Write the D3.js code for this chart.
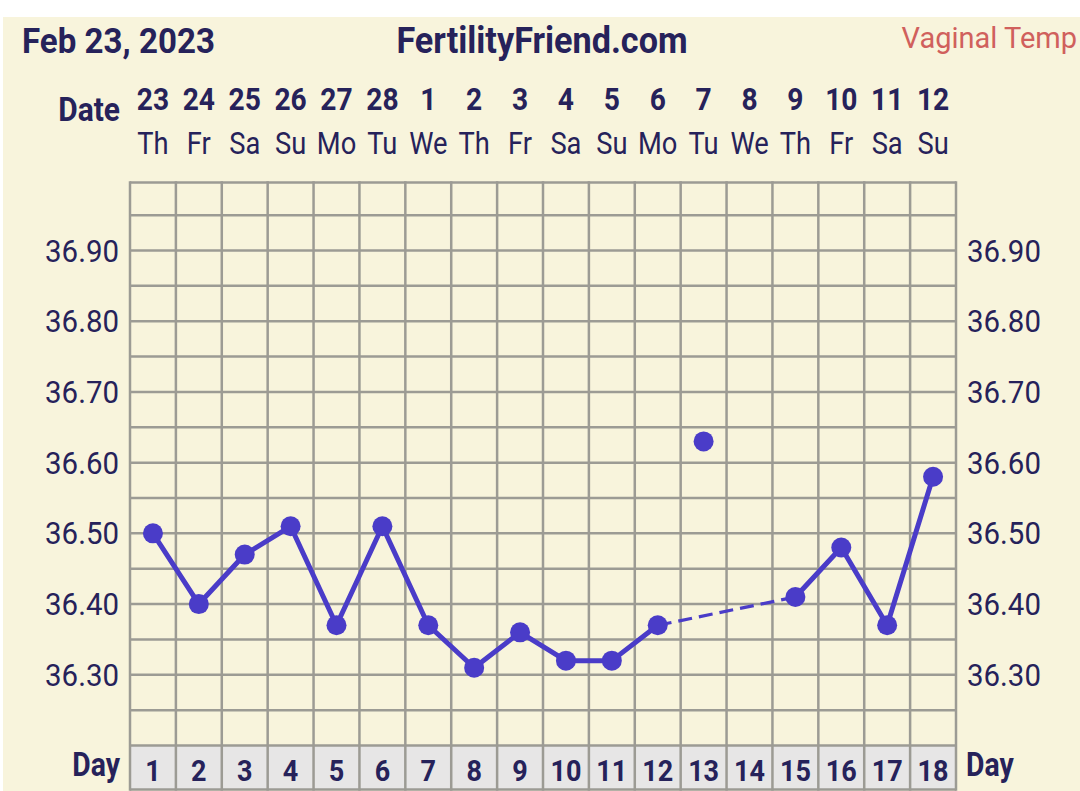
<!DOCTYPE html>
<html>
<head>
<meta charset="utf-8">
<script src="https://cdn.jsdelivr.net/npm/d3@7"></script>
<style>
  html, body { margin: 0; padding: 0; background: #ffffff; }
  svg { display: block; }
  text { font-family: Roboto, "Noto Sans", sans-serif; }
</style>
</head>
<body>
<script>
// ---- data ----
const days = [1,2,3,4,5,6,7,8,9,10,11,12,13,14,15,16,17,18];
const dateLabels = ["23","24","25","26","27","28","1","2","3","4","5","6","7","8","9","10","11","12"];
const weekdays = ["Th","Fr","Sa","Su","Mo","Tu","We","Th","Fr","Sa","Su","Mo","Tu","We","Th","Fr","Sa","Su"];
const temps = [36.50,36.40,36.47,36.51,36.37,36.51,36.37,36.31,36.36,36.32,36.32,36.37,36.63,null,36.41,36.48,36.37,36.58];
const excludedDays = [13];
const yTicks = [36.30,36.40,36.50,36.60,36.70,36.80,36.90];
const gridLines = [36.25,36.30,36.35,36.40,36.45,36.50,36.55,36.60,36.65,36.70,36.75,36.80,36.85,36.90,36.95];
const titleDate = "Feb 23, 2023";
const siteName = "FertilityFriend.com";
const tempType = "Vaginal Temp";

const W = 1080, H = 791;
const ink = "#26225a", gridCol = "#9c9b94", cream = "#f8f4dc", markCol = "#4a3cc8";

const svg = d3.select("body").append("svg").attr("width", W).attr("height", H);
svg.append("rect").attr("x", 3).attr("y", 17).attr("width", W - 3).attr("height", H - 17).attr("fill", cream);

const x = d3.scaleLinear().domain([0.5, 18.5]).range([130, 956]);
const y = d3.scaleLinear().domain([36.20, 36.90]).range([745.5, 250.5]);
const gridTop = y(36.996), rowBottom = 789.5;

// helper for condensed text
function txt(g, xx, yy, s, opts) {
  const sx = opts.sx || 1;
  return g.append("text")
    .attr("transform", `translate(${xx},${yy}) scale(${sx},1)`)
    .attr("text-anchor", opts.anchor || "start")
    .attr("font-size", opts.size)
    .attr("font-weight", opts.bold ? 700 : 400)
    .attr("fill", opts.fill || ink)
    .text(s);
}

// day row background
svg.append("rect").attr("x", x(0.5)).attr("y", y(36.20)).attr("width", x(18.5) - x(0.5))
  .attr("height", rowBottom - y(36.20)).attr("fill", "#e7e6e6");

// grid
const grid = svg.append("g").attr("stroke", gridCol).attr("stroke-width", 2.5);
grid.selectAll("line.h").data(gridLines).join("line")
  .attr("x1", x(0.5)).attr("x2", x(18.5)).attr("y1", d => y(d)).attr("y2", d => y(d));
grid.append("line").attr("x1", x(0.5)).attr("x2", x(18.5)).attr("y1", gridTop).attr("y2", gridTop);
grid.append("line").attr("x1", x(0.5)).attr("x2", x(18.5)).attr("y1", y(36.20)).attr("y2", y(36.20));
grid.append("line").attr("x1", x(0.5)).attr("x2", x(18.5)).attr("y1", rowBottom).attr("y2", rowBottom);
grid.selectAll("line.v").data(d3.range(0.5, 19, 1)).join("line")
  .attr("x1", d => x(d)).attr("x2", d => x(d)).attr("y1", gridTop - 1.25).attr("y2", rowBottom + 1.25);

// header
txt(svg, 22, 53, titleDate, {size: 36, bold: true, sx: 0.92});
txt(svg, 542, 53, siteName, {size: 36, bold: true, sx: 0.95, anchor: "middle"});
txt(svg, 1077, 48, tempType, {size: 29, fill: "#d0605c", sx: 1.0, anchor: "end"});
txt(svg, 120, 121, "Date", {size: 34, bold: true, sx: 0.88, anchor: "end"});

days.forEach((d, i) => {
  txt(svg, x(d), 109.5, dateLabels[i], {size: 32, bold: true, sx: 0.88, anchor: "middle"});
  txt(svg, x(d), 154, weekdays[i], {size: 31, sx: 0.88, anchor: "middle"});
  txt(svg, x(d), 780.5, String(d), {size: 30, bold: true, sx: 0.9, anchor: "middle"});
});

// y labels
yTicks.forEach(t => {
  txt(svg, 119, y(t) + 11, t.toFixed(2), {size: 31, sx: 0.95, anchor: "end"});
  txt(svg, 967, y(t) + 11, t.toFixed(2), {size: 31, sx: 0.95, anchor: "start"});
});
txt(svg, 120, 776, "Day", {size: 33, bold: true, sx: 0.86, anchor: "end"});
txt(svg, 966, 776, "Day", {size: 33, bold: true, sx: 0.86, anchor: "start"});

// data
const pts = days.map((d, i) => ({day: d, t: temps[i], ex: excludedDays.includes(d)}))
  .filter(p => p.t !== null);
const valid = pts.filter(p => !p.ex);
const line = d3.line().x(p => x(p.day)).y(p => y(p.t));
// split into solid runs (consecutive days) and dashed gaps
const segs = [];
for (let i = 1; i < valid.length; i++) {
  const a = valid[i - 1], b = valid[i];
  segs.push({pair: [a, b], dashed: b.day - a.day > 1});
}
svg.append("g").selectAll("path").data(segs).join("path")
  .attr("d", s => line(s.pair))
  .attr("fill", "none")
  .attr("stroke", markCol)
  .attr("stroke-width", s => s.dashed ? 3.2 : 5)
  .attr("stroke-dasharray", s => s.dashed ? "14,7" : null)
  .attr("stroke-linecap", s => s.dashed ? "butt" : "round");

svg.append("g").selectAll("circle").data(pts).join("circle")
  .attr("cx", p => x(p.day)).attr("cy", p => y(p.t)).attr("r", 10)
  .attr("fill", markCol);
</script>
</body>
</html>
